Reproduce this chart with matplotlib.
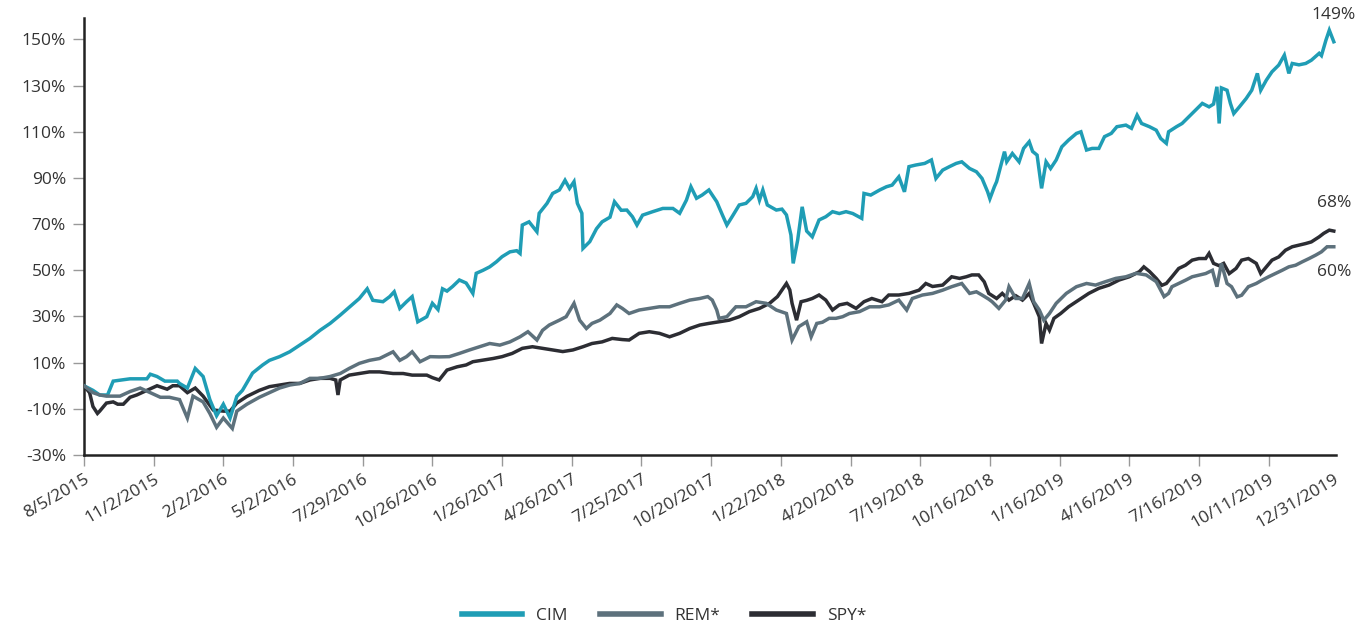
import matplotlib
matplotlib.use("Agg")
import matplotlib.pyplot as plt

# ---- data (trading-day index from 8/5/2015, cumulative total return %) ----
cim_day = [0, 8, 14, 21, 26, 41, 56, 59, 65, 72, 83, 85, 92, 99, 106, 112, 118, 124, 130, 136,
           141, 150, 159, 165, 174, 183, 192, 201, 210, 219, 228, 236, 245, 252, 257, 266, 272, 276,
           281, 287, 292, 297, 305, 310, 315, 319, 323, 328, 334, 340, 346, 349, 355, 361, 367, 372,
           379, 385, 388, 390, 396, 403, 405, 412, 417, 423, 428, 432, 436, 439, 443, 444, 450, 456,
           461, 468, 472, 478, 483, 488, 492, 497, 506, 515, 524, 530, 536, 540, 545, 550, 556, 563,
           568, 572, 577, 583, 589, 595, 598, 601, 604, 608, 616, 621, 625, 629, 631, 635, 639, 643,
           648, 654, 660, 666, 672, 678, 684, 692, 694, 700, 708, 714, 719, 725, 730, 734, 740, 748,
           754, 758, 764, 770, 776, 781, 788, 794, 799, 804, 806, 810, 812, 819, 821, 826, 832, 836,
           841, 844, 848, 852, 856, 860, 865, 870, 876, 883, 887, 892, 897, 903, 908, 914, 919, 927,
           932, 937, 941, 948, 954, 958, 963, 965, 972, 977, 983, 989, 995, 1001, 1005, 1008, 1010,
           1012, 1017, 1020, 1023, 1028, 1034, 1039, 1044, 1047, 1052, 1057, 1063, 1068, 1072, 1075,
           1081, 1087, 1092, 1099, 1101, 1105, 1108, 1112]
cim_val = [0, -2, -4, -4, 2, 3, 3, 5, 4, 2, 2, 1, -1, 7.5, 4, -6, -13, -8, -14, -4.6,
           -2, 5.5, 9, 11, 12.6, 14.7, 17.6, 20.5, 24, 27, 30.6, 34, 37.8, 42, 37, 36.4, 38.6, 40.7,
           33.5, 36.4, 38.6, 27.7, 29.9, 35.7, 33, 42, 41, 43, 45.8, 44.5, 40, 48.7, 50, 51.5, 53.7, 55.9,
           58, 58.5, 57.3, 69.6, 71, 66.7, 74.7, 79, 83.3, 84.8, 89, 85.5, 88.4, 79, 74.7, 59.5, 62.4, 68,
           71, 73, 79.7, 76, 76.1, 73.2, 69.6, 73.9, 75.4, 76.8, 76.8, 74.7, 80.4, 86.2, 81.2, 82.6, 84.8, 79.7,
           74, 69.6, 73.5, 78.3, 79, 81.9, 85.5, 80.4, 84.8, 78.3, 76.1, 76.5, 74, 65.3, 53, 63.1, 77.5, 67,
           64.5, 71.8, 73.2, 75.4, 74.6, 75.4, 74.6, 72.5, 83.3, 82.6, 84.8, 86.2, 86.9, 90.5, 84, 94.9, 95.6, 96.3,
           97.8, 89.8, 93.4, 94.9, 96.3, 97, 94.1, 92.7, 89.8, 84, 81, 86.2, 88.4, 101.4, 97, 100.6, 97, 102.8,
           105.7, 101.5, 99.9, 85.5, 97, 94.1, 97.8, 103.5, 106.4, 109.3, 110, 102.1, 102.8, 102.8, 107.9, 109.3, 112.2, 112.9,
           111.5, 117.2, 113.6, 112.2, 110.7, 107.1, 105, 110, 112.2, 113.6, 116.5, 119.4, 122.3, 120.8, 122, 129.5, 113.6,
           129, 128, 122.3, 117.9, 120.8, 124.4, 128, 135.3, 128, 132.4, 136, 138.9, 143.2, 135.3, 139.6,
           139, 139.6, 141, 144, 143, 149.7, 154, 149]

rem_day = [0, 8, 14, 20, 32, 41, 50, 59, 68, 76, 85, 92, 97, 106, 112, 118, 124, 132, 136, 145,
           156, 165, 174, 183, 192, 201, 210, 219, 228, 236, 245, 254, 263, 275, 281, 287, 292, 299,
           308, 316, 325, 334, 343, 352, 361, 370, 379, 388, 395, 403, 408, 414, 423, 429, 436, 441,
           447, 452, 459, 468, 474, 479, 485, 494, 503, 512, 521, 530, 539, 548, 555, 559, 563, 565,
           572, 580, 589, 598, 607, 616, 625, 630, 636, 643, 647, 652, 657, 663, 669, 675, 681, 690,
           699, 708, 716, 725, 732, 737, 746, 755, 764, 772, 781, 788, 794, 799, 805, 808, 814, 820,
           823, 829, 835, 841, 845, 850, 854, 859, 865, 874, 883, 892, 900, 909, 918, 927, 936, 945,
           954, 961, 965, 968, 974, 980, 986, 992, 998, 1004, 1008, 1012, 1017, 1021, 1026, 1030, 1036,
           1043, 1048, 1054, 1060, 1066, 1072, 1078, 1084, 1090, 1096, 1101, 1106, 1112]
rem_val = [0, -3, -4, -4.5, -4.5, -2.5, -1, -3, -5, -5, -6, -14, -4.5, -7, -12, -18, -14, -18.5, -11, -8,
           -5, -3, -1, 0.3, 1, 3.2, 3.2, 4, 5.3, 7.5, 9.7, 11, 11.8, 14.7, 11, 12.6, 14.7, 10.4,
           12.6, 12.5, 12.6, 14, 15.5, 16.9, 18.3, 17.6, 19, 21.2, 23.4, 19.8, 24, 26.3, 28.4, 29.9, 35.7, 28.4,
           24.8, 27, 28.4, 31.3, 35, 33.5, 31.3, 32.8, 33.5, 34.2, 34.2, 35.7, 37.1, 37.8, 38.6, 37.1, 32.8, 29.2,
           29.9, 34.2, 34.2, 36.4, 35.7, 32.8, 31.3, 19.8, 25.6, 27.7, 21.2, 27, 27.5, 29.2, 29.2, 29.9, 31.3, 32.1,
           34.2, 34.2, 35, 37.1, 32.8, 37.8, 39.3, 40, 41.4, 42.9, 44.3, 40, 40.7, 39.3, 37.5, 36.4, 33.5, 37.1,
           42.9, 37.8, 37.8, 44.3, 36.4, 32.8, 28.4, 31.3, 35.7, 40, 42.9, 44.3, 43.6, 45.1, 46.5, 47.2, 48.7, 48,
           45.1, 38.6, 40, 42.9, 44.3, 45.7, 47.2, 47.9, 48.6, 50, 42.9, 53, 44.3, 42.9, 38.5, 39.2, 42.9,
           44.3, 45.7, 47.2, 48.6, 50, 51.5, 52.2, 53.7, 55.1, 56.6, 58, 60.2, 60.2]

spy_day = [0, 5, 8, 12, 14, 20, 26, 30, 35, 41, 47, 56, 65, 74, 79, 85, 92, 99, 106, 115,
           124, 130, 136, 145, 156, 165, 174, 183, 192, 201, 210, 219, 224, 226, 228, 236, 245, 254,
           263, 275, 284, 292, 305, 310, 316, 323, 332, 340, 346, 355, 364, 372, 381, 390, 399, 408,
           417, 426, 435, 444, 452, 461, 470, 479, 485, 494, 503, 512, 521, 530, 539, 548, 556, 565,
           574, 583, 592, 601, 610, 617, 625, 628, 630, 634, 638, 643, 648, 654, 660, 666, 672, 679,
           687, 694, 701, 710, 716, 725, 734, 743, 749, 755, 764, 772, 779, 785, 790, 796, 801, 805,
           812, 817, 823, 829, 835, 841, 845, 850, 852, 856, 859, 863, 869, 876, 885, 894, 903, 912,
           921, 930, 939, 943, 948, 954, 959, 963, 968, 974, 980, 986, 992, 998, 1001, 1005, 1010,
           1014, 1019, 1025, 1030, 1036, 1043, 1047, 1052, 1057, 1063, 1069, 1075, 1081, 1087, 1092,
           1099, 1103, 1108, 1112]
spy_val = [0, -3, -9, -12, -11, -7.5, -7, -8, -8, -5, -4, -2, 0, -1.5, 0, 0, -3, -1, -4.5, -10.5,
           -11, -11, -7.5, -4.6, -2, -0.4, 0.3, 1, 1, 2.5, 3.2, 3.2, 2.5, -4, 2.5, 4.6, 5.3, 6,
           6, 5.3, 5.3, 4.6, 4.6, 3.5, 2.5, 6.8, 8.2, 9, 10.4, 11.1, 11.8, 12.6, 14, 16.2, 16.9, 16.2,
           15.5, 14.8, 15.5, 16.9, 18.3, 19, 20.5, 20, 19.8, 22.7, 23.4, 22.7, 21.2, 22.7, 24.8, 26.3, 27, 27.7,
           28.4, 29.9, 32.1, 33.5, 35.7, 38.6, 44.3, 41.5, 35.7, 28.4, 36.4, 37, 37.8, 39.3, 37.1, 32.8, 35, 35.7,
           33.5, 36.4, 37.8, 36.4, 39.3, 39.3, 40, 41.4, 44.3, 43, 43.6, 47.2, 46.5, 47.2, 48, 48, 45, 40,
           37.8, 40, 37.1, 39, 37.1, 40, 35.7, 29.9, 18.3, 27, 24.1, 29.2, 31.3, 34.2, 37.1, 40, 42.2, 43.6,
           45.8, 47.2, 49.4, 51.5, 49.5, 46.5, 43.5, 44.3, 47.2, 50.8, 52.2, 54.4, 55.1, 55.1, 57.3, 53, 52,
           53, 48.6, 50.8, 54.4, 55.1, 53, 48.6, 51.5, 54.4, 55.8, 58.7, 60.2, 60.9, 61.6, 62.3,
           64.5, 66, 67.4, 67]

tick_days = [0, 62, 124, 186, 248, 310, 372, 434, 496, 558, 620, 682, 744, 806, 868, 930, 992, 1054, 1112]
tick_labels = ["8/5/2015", "11/2/2015", "2/2/2016", "5/2/2016", "7/29/2016", "10/26/2016",
               "1/26/2017", "4/26/2017", "7/25/2017", "10/20/2017", "1/22/2018", "4/20/2018",
               "7/19/2018", "10/16/2018", "1/16/2019", "4/16/2019", "7/16/2019", "10/11/2019",
               "12/31/2019"]
y_ticks = [-30, -10, 10, 30, 50, 70, 90, 110, 130, 150]
end_labels = ["149%", "68%", "60%"]

# ---- styling ----
plt.rcParams['font.family'] = ['Open Sans', 'DejaVu Sans']
c_cim = "#1f9db5"
c_rem = "#5d717c"
c_spy = "#2c2d33"
txt = "#333333"
fs = 12.5

fig = plt.figure(figsize=(13.72, 6.33), dpi=100)
ax = fig.add_axes([0.0612, 0.2812, 0.9126, 0.6904])

ax.plot(cim_day, cim_val, color=c_cim, lw=2.5, label="CIM", solid_joinstyle="miter", zorder=3)
ax.plot(rem_day, rem_val, color=c_rem, lw=2.5, label="REM*", solid_joinstyle="miter", zorder=4)
ax.plot(spy_day, spy_val, color=c_spy, lw=2.5, label="SPY*", solid_joinstyle="miter", zorder=2)

ax.set_xlim(0, 1114)
ax.set_ylim(-30, 159.3)
ax.set_yticks(y_ticks)
ax.set_yticklabels([f"{v}%" for v in y_ticks], fontsize=fs, color=txt)
ax.set_xticks(tick_days)
ax.set_xticklabels(tick_labels, rotation=30, ha="right", rotation_mode="anchor",
                   fontsize=fs, color=txt)
ax.xaxis.get_major_ticks()[-1].tick1line.set_visible(False)
ax.tick_params(axis="both", direction="out", length=8, width=1, color="#999999", pad=5)
ax.tick_params(axis="x", pad=4)

for s in ["top", "right"]:
    ax.spines[s].set_visible(False)
for s in ["left", "bottom"]:
    ax.spines[s].set_color("#222222")
    ax.spines[s].set_linewidth(1.8)

ax.text(cim_day[-1], 160.6, end_labels[0], ha="center", va="center", fontsize=fs,
        color=txt, clip_on=False)
ax.text(spy_day[-1], 79.1, end_labels[1], ha="center", va="center", fontsize=fs,
        color=txt, clip_on=False)
ax.text(rem_day[-1], 49.3, end_labels[2], ha="center", va="center", fontsize=fs,
        color=txt, clip_on=False)

leg = fig.legend(loc="center", bbox_to_anchor=(0.484, 0.027), ncol=3, frameon=False,
                 fontsize=fs, handlelength=3.5, columnspacing=1.85, handletextpad=0.8)
for line in leg.get_lines():
    line.set_linewidth(4)
for t in leg.get_texts():
    t.set_color(txt)

fig.savefig("out.png", dpi=100)
